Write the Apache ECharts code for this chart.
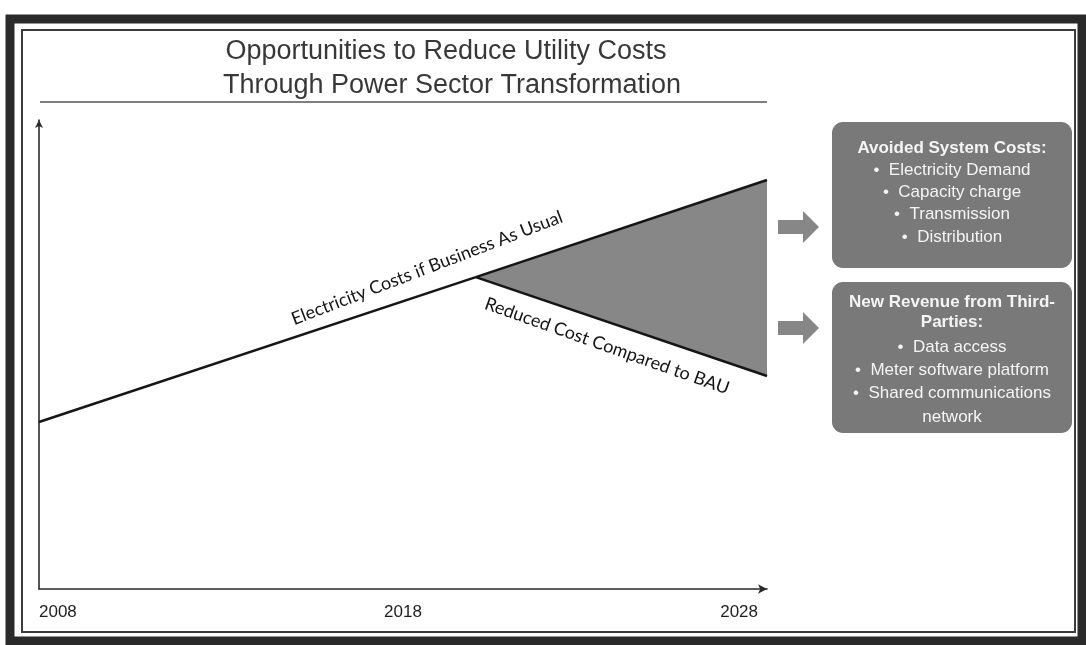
<!DOCTYPE html>
<html>
<head>
<meta charset="utf-8">
<script src="https://cdn.jsdelivr.net/npm/echarts@6/dist/echarts.min.js"></script>
<style>
  html, body { margin: 0; padding: 0; background: #ffffff; }
  #chart { width: 1086px; height: 645px; }
</style>
</head>
<body>
<div id="chart"></div>
<script>
// Axis ticks (years)
const tickYears = [2008, 2018, 2028];

// Business-as-usual cost path
const bauYears = [2008, 2020, 2028];
const bauCost = [35.6, 66.5, 87.2];

// Reduced-cost path after the transformation starts
const reducedYears = [2020, 2028];
const reducedCost = [66.5, 45.4];

// Side panels
const avoidedTitle = ['Avoided System Costs:'];
const avoidedItems = ['Electricity Demand', 'Capacity charge', 'Transmission', 'Distribution'];
const revenueTitle = ['New Revenue from Third-', 'Parties:'];
const revenueItems = ['Data access', 'Meter software platform', 'Shared communications', 'network'];

const chart = echarts.init(document.getElementById('chart'), null, { renderer: 'canvas' });

const boxFont = 'Liberation Sans, Arial, sans-serif';
const boxTextColor = '#f4f4f4';

function arrowShape(cy) {
  return [[778, cy - 7], [803, cy - 7], [803, cy - 16], [819, cy], [803, cy + 16], [803, cy + 7], [778, cy + 7]];
}

function panelText(lines, x, y0, step, bold) {
  return lines.map((t, i) => ({
    type: 'text',
    x: x, y: y0 + i * step,
    z: 20,
    style: {
      text: t,
      font: (bold ? 'bold ' : '') + '17px ' + boxFont,
      fill: boxTextColor,
      align: 'center',
      verticalAlign: 'middle'
    }
  }));
}

const graphics = [
  // page frame
  { type: 'rect', z: 1, shape: { x: 10, y: 19, width: 1072, height: 622 },
    style: { fill: 'none', stroke: '#2a2a2a', lineWidth: 9 } },
  { type: 'rect', z: 1, shape: { x: 22, y: 30, width: 1053, height: 602 },
    style: { fill: 'none', stroke: '#3c3c3c', lineWidth: 2 } },
  // title
  { type: 'text', x: 446, y: 52, z: 10,
    style: { text: 'Opportunities to Reduce Utility Costs', font: '27px Liberation Sans, Arial, sans-serif',
             fill: '#383838', align: 'center', verticalAlign: 'middle' } },
  { type: 'text', x: 452, y: 86, z: 10,
    style: { text: 'Through Power Sector Transformation', font: '27px Liberation Sans, Arial, sans-serif',
             fill: '#383838', align: 'center', verticalAlign: 'middle' } },
  { type: 'line', z: 10, shape: { x1: 40, y1: 102, x2: 767, y2: 102 },
    style: { stroke: '#555555', lineWidth: 1.5 } },
  // curve annotations
  { type: 'text', x: 427, y: 268, rotation: 21 * Math.PI / 180, z: 10,
    style: { text: 'Electricity Costs if Business As Usual', font: '18px Lato, Open Sans, sans-serif',
             fill: '#141414', align: 'center', verticalAlign: 'middle' } },
  { type: 'text', x: 607, y: 346, rotation: -19.5 * Math.PI / 180, z: 10,
    style: { text: 'Reduced Cost Compared to BAU', font: '18px Lato, Open Sans, sans-serif',
             fill: '#141414', align: 'center', verticalAlign: 'middle' } },
  // arrows
  { type: 'polygon', z: 10, shape: { points: arrowShape(227) }, style: { fill: '#878787' } },
  { type: 'polygon', z: 10, shape: { points: arrowShape(328) }, style: { fill: '#878787' } },
  // panels
  { type: 'rect', z: 10, shape: { x: 832, y: 122, width: 240, height: 146, r: 11 }, style: { fill: '#797979' } },
  { type: 'rect', z: 10, shape: { x: 832, y: 282, width: 240, height: 151, r: 11 }, style: { fill: '#797979' } }
]
  .concat(panelText(avoidedTitle, 952, 148, 22, true))
  .concat(panelText(avoidedItems.map(t => '\u2022  ' + t), 952, 170, 22.3, false))
  .concat(panelText(revenueTitle, 952, 302, 20, true))
  .concat(panelText(revenueItems.map((t, i) => (i < 3 ? '\u2022  ' : '') + t), 952, 347, 23.3, false));

const lastTick = tickYears[tickYears.length - 1];

const option = {
  backgroundColor: '#ffffff',
  animation: false,
  grid: { left: 39, right: 319, top: 120, bottom: 56 },
  xAxis: {
    type: 'value',
    min: tickYears[0],
    max: lastTick,
    interval: tickYears[1] - tickYears[0],
    splitLine: { show: false },
    axisTick: { show: false },
    axisLine: { show: true, symbol: ['none', 'arrow'], symbolSize: [7, 9],
                lineStyle: { color: '#2a2a2a', width: 1.6 } },
    axisLabel: {
      formatter: v => (v === lastTick ? '{end|' + v + '}' : String(v)),
      color: '#1e1e1e',
      fontSize: 17,
      fontFamily: 'Liberation Sans, Arial, sans-serif',
      margin: 15,
      rich: {
        end: { fontSize: 17, color: '#1e1e1e', fontFamily: 'Liberation Sans, Arial, sans-serif',
               padding: [0, 9, 0, 0] }
      },
      alignMinLabel: 'left',
      alignMaxLabel: 'right'
    }
  },
  yAxis: {
    type: 'value',
    min: 0,
    max: 100,
    splitLine: { show: false },
    axisTick: { show: false },
    axisLabel: { show: false },
    axisLine: { show: true, symbol: ['none', 'arrow'], symbolSize: [6, 8],
                lineStyle: { color: '#2a2a2a', width: 1.6 } }
  },
  graphic: graphics,
  series: [
    {
      // shaded savings wedge between the two paths
      type: 'custom',
      z: 2,
      silent: true,
      data: [[reducedYears[1], reducedCost[1]]],
      renderItem: function (params, api) {
        const pts = [
          api.coord([bauYears[1], bauCost[1]]),
          api.coord([bauYears[2], bauCost[2]]),
          api.coord([reducedYears[1], reducedCost[1]])
        ];
        return { type: 'polygon', shape: { points: pts }, style: { fill: '#878787' } };
      }
    },
    {
      name: 'Business As Usual',
      type: 'line',
      z: 3,
      symbol: 'none',
      data: bauYears.map((y, i) => [y, bauCost[i]]),
      lineStyle: { color: '#161616', width: 2.6 }
    },
    {
      name: 'Reduced Cost',
      type: 'line',
      z: 3,
      symbol: 'none',
      data: reducedYears.map((y, i) => [y, reducedCost[i]]),
      lineStyle: { color: '#161616', width: 2.6 }
    }
  ]
};

chart.setOption(option);
</script>
</body>
</html>
